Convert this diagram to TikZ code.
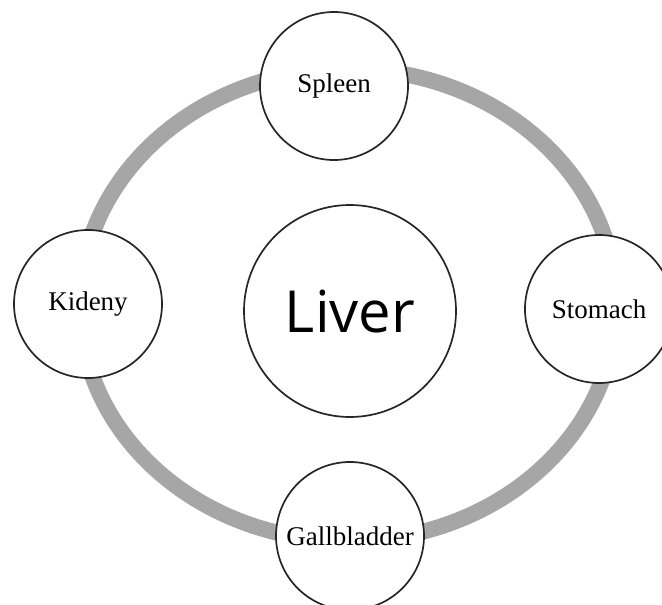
\documentclass[tikz,border=0pt]{standalone}
\usepackage{fontspec}
\setmainfont{Liberation Serif}
\newfontfamily\liverfont{Open Sans}
\definecolor{ringgray}{HTML}{A6A6A6}
\definecolor{rim}{HTML}{262626}

\begin{document}
\begin{tikzpicture}[x=1pt, y=-1pt,
  organ/.style={circle, draw=rim, line width=1.7pt, fill=white, inner sep=0pt,
                minimum size=148pt, font=\fontsize{27}{32}\selectfont},
  ring/.style={draw=ringgray, line width=16pt}
]
  \clip (0,0) rectangle (662,605);

  % gray cycle behind the organs
  \draw[ring] (348,305) ellipse [x radius=268pt, y radius=236pt];

  \node[organ, minimum size=212pt, font=\liverfont\fontsize{58}{68}\selectfont]
       (liver) at (350,311) {Liver};
  \node[organ] (spleen)  at (334,86)  {\raisebox{4pt}{Spleen}};
  \node[organ] (kidney)  at (88,304)  {Kideny};
  \node[organ] (stomach) at (599,309) {Stomach};
  \node[organ] (gall)    at (350,536) {Gallbladder};
\end{tikzpicture}
\end{document}
